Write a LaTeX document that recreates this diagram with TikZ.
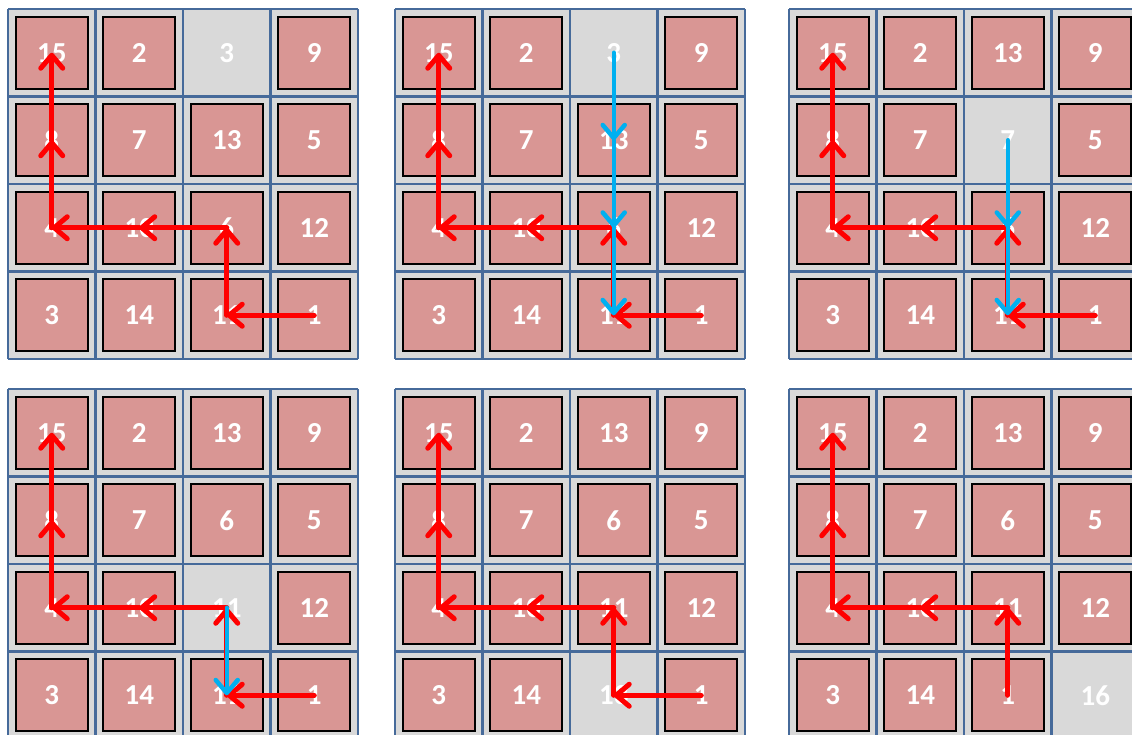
\documentclass[tikz,border=0pt]{standalone}
\usepackage{fontspec}
\setmainfont{Carlito}
\usetikzlibrary{arrows.meta}
\definecolor{cellbg}{HTML}{D9D9D9}
\definecolor{tilefill}{HTML}{D99694}
\definecolor{gridblue}{HTML}{466A9A}
\definecolor{arrowred}{HTML}{FF0000}
\definecolor{arrowblue}{HTML}{00B0F0}
\tikzset{
  tile/.style={draw=black, line width=2.4pt, fill=tilefill, minimum size=72pt, inner sep=0pt, text=white, font=\fontsize{29}{29}\selectfont\bfseries},
  hole/.style={minimum size=72pt, inner sep=0pt, text=white, font=\fontsize{29}{29}\selectfont\bfseries},
  gridline/.style={draw=gridblue, line width=2.4pt},
  redarr/.style={draw=arrowred, line width=5pt, line cap=round, -{Straight Barb[length=13pt,width=22pt,line cap=round,line join=round]}},
  bluearr/.style={draw=arrowblue, line width=4.5pt, line cap=round, -{Straight Barb[length=13pt,width=22pt,line cap=round,line join=round]}}
}
\newcommand\puzzle[5]{%
  \fill[cellbg] (#2,#3) rectangle ++(350,350);
  \foreach \lab [count=\i from 0] in {#4} {
    \pgfmathtruncatemacro\r{\i/4}
    \pgfmathtruncatemacro\c{mod(\i,4)}
    \ifnum\i=#5\relax
      \node[hole] (#1-\r-\c) at ({#2+87.5*\c+43.75},{#3+87.5*\r+43.75}) {\lab};
    \else
      \node[tile] (#1-\r-\c) at ({#2+87.5*\c+43.75},{#3+87.5*\r+43.75}) {\lab};
    \fi
  }
  \foreach \k in {0,...,4} {
    \draw[gridline] ({#2+87.5*\k},#3) -- ++(0,350);
    \draw[gridline] (#2,{#3+87.5*\k}) -- ++(350,0);
  }
}
\newcommand\redtail[1]{%
  \draw[redarr] (#1-2-2.center) -- (#1-2-1.center);
  \draw[redarr] (#1-2-1.center) -- (#1-2-0.center);
  \draw[redarr] (#1-2-0.center) -- (#1-1-0.center);
  \draw[redarr] (#1-1-0.center) -- (#1-0-0.center);
}
\newcommand\redfull[1]{%
  \draw[redarr] (#1-3-3.center) -- (#1-3-2.center);
  \draw[redarr] (#1-3-2.center) -- (#1-2-2.center);
  \redtail{#1}
}
\begin{document}
\begin{tikzpicture}[x=1pt,y=-1pt]
\useasboundingbox (0,0) rectangle (1132,734);
\clip (0,0) rectangle (1132,734);
\puzzle{ga}{8}{9}{15,2,3,9,8,7,13,5,4,10,6,12,3,14,11,1}{2}
\puzzle{gb}{395}{9}{15,2,3,9,8,7,13,5,4,10,6,12,3,14,11,1}{2}
\puzzle{gc}{789}{9}{15,2,13,9,8,7,7,5,4,10,6,12,3,14,11,1}{6}
\puzzle{gd}{8}{389}{15,2,13,9,8,7,6,5,4,10,11,12,3,14,11,1}{10}
\puzzle{ge}{395}{389}{15,2,13,9,8,7,6,5,4,10,11,12,3,14,13,1}{14}
\puzzle{gf}{789}{389}{15,2,13,9,8,7,6,5,4,10,11,12,3,14,1,16}{15}
% red paths
\redfull{ga}
\redfull{gb}
\redfull{gc}
\redfull{gd}
\redfull{ge}
\draw[redarr] (gf-3-2.center) -- (gf-2-2.center);
\redtail{gf}
% blue paths
\draw[bluearr] (gb-0-2.center) -- (gb-1-2.center);
\draw[bluearr] (gb-1-2.center) -- (gb-2-2.center);
\draw[bluearr] (gb-2-2.center) -- (gb-3-2.center);
\draw[bluearr] (gc-1-2.center) -- (gc-2-2.center);
\draw[bluearr] (gc-2-2.center) -- (gc-3-2.center);
\draw[bluearr] (gd-2-2.center) -- (gd-3-2.center);
\end{tikzpicture}
\end{document}
